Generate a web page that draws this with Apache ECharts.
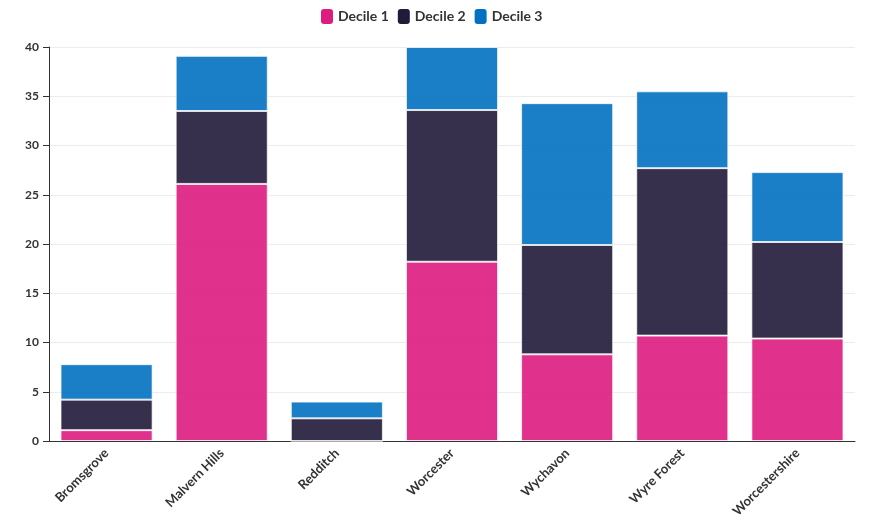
<!DOCTYPE html>
<html><head><meta charset="utf-8">
<script src="https://cdn.jsdelivr.net/npm/echarts@6/dist/echarts.min.js"></script>
<style>html,body{margin:0;padding:0;background:#fff}#c{width:874px;height:525px}</style>
</head><body><div id="c"></div>
<script>
const categories = ["Bromsgrove","Malvern Hills","Redditch","Worcester","Wychavon","Wyre Forest","Worcestershire"];
const decile1 = [1.1, 26.1, 0, 18.2, 8.8, 10.7, 10.4];
const decile2 = [3.1, 7.4, 2.3, 15.4, 11.1, 17.0, 9.8];
const decile3 = [3.6, 5.6, 1.7, 6.4, 14.4, 7.8, 7.1];
const seriesNames = ["Decile 1","Decile 2","Decile 3"];
const colors = ["#dd1c7f","#211a39","#0271c1"];
const yTicks = [0,5,10,15,20,25,30,35,40];

const font = "Lato, 'Open Sans', sans-serif";
const chart = echarts.init(document.getElementById('c'), null, {renderer:'canvas'});
const mk = (name, data, i) => ({
  name, type:'bar', stack:'a', data, barCategoryGap:'20%',
  itemStyle:{color:colors[i], opacity:0.9, borderColor:'rgba(255,255,255,0.8)', borderWidth:1},
  emphasis:{disabled:true}
});
chart.setOption({
  animation:false,
  color: colors,
  legend:{
    top:4, left:316, itemWidth:12, itemHeight:15, itemGap:9, icon:'roundRect',
    itemStyle:{opacity:1, borderWidth:0},
    textStyle:{fontFamily:font, fontWeight:'bold', fontSize:14, color:'#333'},
    data: seriesNames
  },
  grid:{left:49, right:19, top:47, bottom:84, containLabel:false},
  xAxis:{
    type:'category', data:categories,
    axisLine:{lineStyle:{color:'#333', width:1}},
    axisTick:{alignWithLabel:true, length:6, lineStyle:{color:'#333'}},
    axisLabel:{rotate:45, fontFamily:font, fontWeight:'bold', fontSize:13, color:'#333', margin:10, interval:0}
  },
  yAxis:{
    type:'value', min:yTicks[0], max:yTicks[yTicks.length-1], interval:5,
    axisLine:{show:true, lineStyle:{color:'#333', width:1}},
    axisTick:{show:true, length:6, lineStyle:{color:'#333'}},
    axisLabel:{fontFamily:font, fontWeight:'bold', fontSize:12, color:'#333', margin:10},
    splitLine:{lineStyle:{color:'#ececec'}}
  },
  series:[mk(seriesNames[0],decile1,0), mk(seriesNames[1],decile2,1), mk(seriesNames[2],decile3,2)]
});
</script></body></html>
